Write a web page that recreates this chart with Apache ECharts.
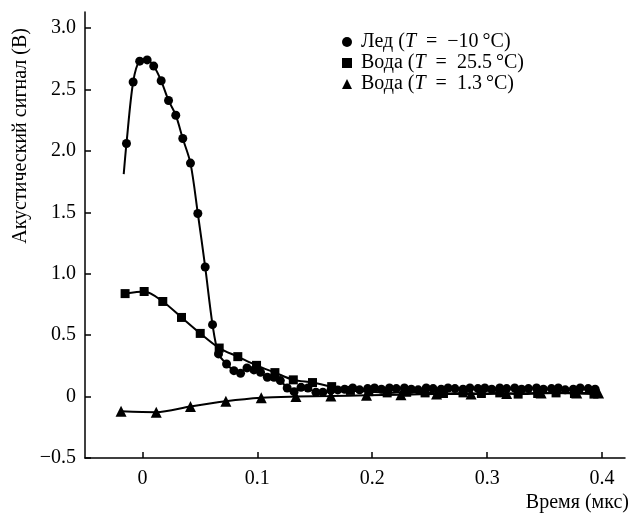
<!DOCTYPE html>
<html><head><meta charset="utf-8">
<script src="https://cdn.jsdelivr.net/npm/echarts@6/dist/echarts.min.js"></script>
<style>html,body{margin:0;padding:0;background:#fff}#c{width:633px;height:515px}</style>
</head><body><div id="c"></div>
<script>
// ---- Data ----
const seriesNames = ['Лед (T = −10 °C)', 'Вода (T = 25.5 °C)', 'Вода (T = 1.3 °C)'];
const xTicks = [0, 0.1, 0.2, 0.3, 0.4];
const yTicks = [-0.5, 0, 0.5, 1.0, 1.5, 2.0, 2.5, 3.0];

// Ice (circles): first point is the curve start without a marker
const iceX = [-0.0163, -0.0139, -0.0081, -0.0024, 0.0041, 0.0098, 0.0163, 0.0227, 0.029, 0.0351, 0.0418, 0.0482, 0.0546, 0.061,
  0.0662, 0.0732, 0.0796, 0.0854, 0.091, 0.097, 0.1028, 0.1087, 0.1145, 0.120, 0.126, 0.132, 0.138, 0.144, 0.151, 0.157, 0.164, 0.170,
  0.176, 0.183, 0.189, 0.196, 0.202, 0.208, 0.215, 0.221, 0.228, 0.234, 0.240, 0.247, 0.253, 0.260, 0.266, 0.272, 0.279, 0.285,
  0.292, 0.298, 0.304, 0.311, 0.317, 0.324, 0.330, 0.336, 0.343, 0.349, 0.356, 0.362, 0.368, 0.375, 0.381, 0.388, 0.394];
const iceY = [1.81, 2.06, 2.56, 2.73, 2.74, 2.69, 2.57, 2.41, 2.29, 2.10, 1.90, 1.49, 1.055, 0.585,
  0.347, 0.265, 0.211, 0.189, 0.233, 0.217, 0.197, 0.157, 0.157, 0.13, 0.07, 0.04, 0.075, 0.07, 0.035, 0.035, 0.05, 0.054,
  0.06, 0.07, 0.055, 0.065, 0.07, 0.06, 0.07, 0.065, 0.07, 0.06, 0.055, 0.07, 0.065, 0.06, 0.07, 0.065, 0.06, 0.07,
  0.065, 0.07, 0.06, 0.07, 0.065, 0.07, 0.06, 0.065, 0.07, 0.06, 0.065, 0.07, 0.055, 0.06, 0.07, 0.065, 0.06];

// Water 25.5 °C (squares)
const warmX = [-0.0151, 0.0015, 0.0177, 0.034, 0.0503, 0.0668, 0.083, 0.0993, 0.1153, 0.1313, 0.148, 0.1647,
  0.181, 0.197, 0.213, 0.230, 0.246, 0.262, 0.279, 0.295, 0.311, 0.327, 0.344, 0.360, 0.376, 0.393];
const warmY = [0.838, 0.855, 0.774, 0.644, 0.514, 0.395, 0.325, 0.254, 0.195, 0.136, 0.114, 0.081,
  0.05, 0.04, 0.03, 0.035, 0.03, 0.025, 0.03, 0.025, 0.03, 0.02, 0.025, 0.03, 0.025, 0.02];

// Water 1.3 °C (triangles)
const coldX = [-0.0186, 0.012, 0.0418, 0.0726, 0.1034, 0.1336, 0.164, 0.195, 0.225, 0.256, 0.286, 0.317, 0.347, 0.378, 0.397];
const coldY = [-0.12, -0.127, -0.08, -0.038, -0.01, 0.0, 0.005, 0.01, 0.015, 0.02, 0.02, 0.025, 0.03, 0.03, 0.03];

// ---- Chart ----
const FONT = 'Liberation Serif';
const FS = 20;
function pairs(xs, ys) { return xs.map((x, i) => [x, ys[i]]); }
const iceData = pairs(iceX, iceY).map((p, i) => i === 0 ? { value: p, symbol: 'none' } : p);

function fmtNum(v) {
  if (v === 0) return '0';
  const s = Math.abs(v).toFixed(1);
  return v < 0 ? '−' + s : s;
}
// typeset-like spacing in legend labels
function legendFmt(name) {
  return name.replace('T', '{i|T}').replace(' = ', '\u2002=\u2002').replace(' °C', '\u2009°C');
}

const chart = echarts.init(document.getElementById('c'), null, { renderer: 'canvas' });
const baseLine = { type: 'line', smooth: 0.3, lineStyle: { color: '#000', width: 2 }, itemStyle: { color: '#000' }, animation: false, z: 2 };
chart.setOption({
  backgroundColor: '#fff',
  textStyle: { fontFamily: FONT },
  grid: { left: 85, top: 12, right: 8, bottom: 57, containLabel: false },
  legend: {
    orient: 'vertical', left: 337, top: 27, itemGap: 1, itemWidth: 10, itemHeight: 10,
    textStyle: { fontFamily: FONT, fontSize: FS, color: '#000', padding: [0, 0, 0, 4],
      rich: { i: { fontFamily: FONT, fontStyle: 'italic', fontSize: FS, color: '#000' } } },
    formatter: legendFmt,
    data: [
      { name: seriesNames[0], icon: 'circle' },
      { name: seriesNames[1], icon: 'rect' },
      { name: seriesNames[2], icon: 'triangle' }
    ]
  },
  xAxis: {
    type: 'value', min: -0.05, max: 0.42,
    splitLine: { show: false },
    axisLine: { onZero: false, lineStyle: { color: '#000', width: 1.5 } },
    axisTick: { inside: true, length: 6, lineStyle: { color: '#000', width: 1.5 }, customValues: xTicks },
    axisLabel: { color: '#000', fontFamily: FONT, fontSize: FS, margin: 11, customValues: xTicks, formatter: v => v === 0 ? '0' : v.toFixed(1) },
    name: 'Время (мкс)', nameLocation: 'end', nameGap: 4,
    nameTextStyle: { color: '#000', fontFamily: FONT, fontSize: FS, align: 'right', verticalAlign: 'top', padding: [35, 0, 0, 0] }
  },
  yAxis: {
    type: 'value', min: -0.5, max: 3.13,
    splitLine: { show: false },
    axisLine: { onZero: false, lineStyle: { color: '#000', width: 1.5 } },
    axisTick: { inside: true, length: 6, lineStyle: { color: '#000', width: 1.5 }, customValues: yTicks },
    axisLabel: { color: '#000', fontFamily: FONT, fontSize: FS, margin: 9, customValues: yTicks, formatter: fmtNum },
    name: 'Акустический сигнал (В)', nameLocation: 'end', nameGap: -16, nameRotate: 90,
    nameTextStyle: { color: '#000', fontFamily: FONT, fontSize: FS, align: 'right', verticalAlign: 'bottom', padding: [0, 0, 54, 0] }
  },
  series: [
    Object.assign({}, baseLine, { name: seriesNames[0], data: iceData, symbol: 'circle', symbolSize: 9, z: 4 }),
    Object.assign({}, baseLine, { name: seriesNames[1], data: pairs(warmX, warmY), symbol: 'rect', symbolSize: 9, z: 3 }),
    Object.assign({}, baseLine, { name: seriesNames[2], data: pairs(coldX, coldY), symbol: 'triangle', symbolSize: 11, z: 2 })
  ]
});
</script>
</body></html>
